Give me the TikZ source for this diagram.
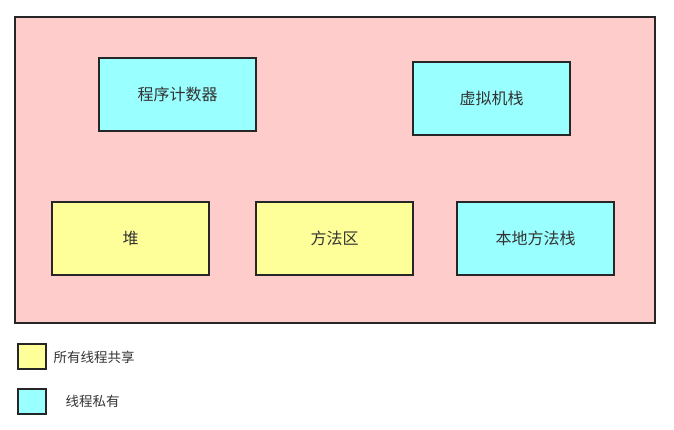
\documentclass[tikz,border=0pt]{standalone}
\usepackage{fontspec}
\setmainfont{Noto Sans CJK SC}
\begin{document}
\begin{tikzpicture}[x=1pt,y=-1pt,
  box/.style={draw=black!85,line width=1.5pt,text=black!80,font=\fontsize{16}{18}\selectfont},
  cy/.style={box,fill={rgb,255:red,153;green,255;blue,255}},
  yl/.style={box,fill={rgb,255:red,255;green,255;blue,153}},
  lg/.style={text=black!80,font=\fontsize{13.5}{15}\selectfont,anchor=west}]
\useasboundingbox (0,0) rectangle (674,430);
\draw[box,fill={rgb,255:red,255;green,204;blue,204}] (15,17) rectangle (655,323);
\draw[cy] (99,58) rectangle node (pc) {程序计数器} (256,131);
\draw[cy] (413,62) rectangle node (vm) {虚拟机栈} (570,135);
\draw[yl] (52,202) rectangle node (heap) {堆} (209,275);
\draw[yl] (256,202) rectangle node (ma) {方法区} (413,275);
\draw[cy] (457,202) rectangle node (ns) {本地方法栈} (614,275);
\draw[yl] (18,344) rectangle (46,369);
\node[lg] (l1) at (50,357) {所有线程共享};
\draw[cy] (18,389) rectangle (46,414);
\node[lg] (l2) at (62,401) {线程私有};
\end{tikzpicture}
\end{document}
